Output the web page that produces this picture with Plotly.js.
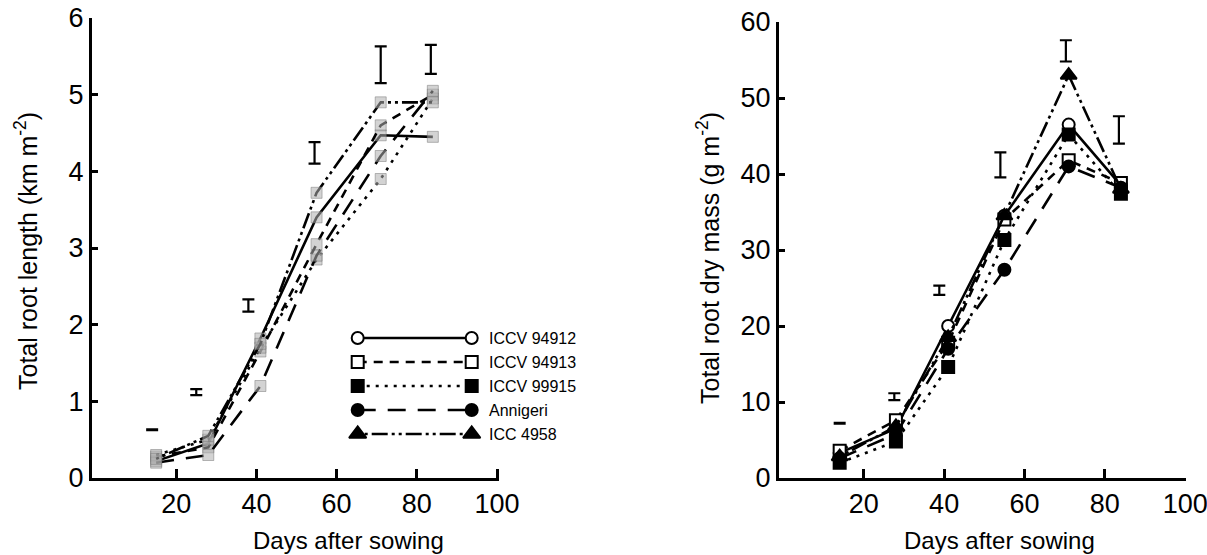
<!DOCTYPE html>
<html>
<head>
<meta charset="utf-8">
<script src="https://cdn.plot.ly/plotly-3.0.1.min.js"></script>
<style>html,body{margin:0;padding:0;background:#fff}#chart{width:1207px;height:555px}</style>
</head>
<body>
<div id="chart"></div>
<script>
// ---------- data ----------
const cultivars = ["ICCV 94912", "ICCV 94913", "ICCV 99915", "Annigeri", "ICC 4958"];

// Left panel: total root length (km m-2)
const daysLength = [15, 28, 41, 55, 71, 84];
const lenICCV94912 = [0.22, 0.45, 1.82, 3.40, 4.47, 4.45];
const lenICCV94913 = [0.28, 0.40, 1.65, 3.05, 4.60, 5.00];
const lenICCV99915 = [0.30, 0.50, 1.70, 2.85, 3.90, 4.95];
const lenAnnigeri  = [0.20, 0.30, 1.20, 2.90, 4.20, 5.05];
const lenICC4958   = [0.25, 0.55, 1.75, 3.72, 4.90, 4.90];
// LSD bars, left panel
const lsdLenDays   = [14, 25, 38, 54.5, 71, 83.5];
const lsdLenCenter = [0.63, 1.12, 2.25, 4.24, 5.39, 5.46];
const lsdLenHalf   = [0.005, 0.04, 0.08, 0.14, 0.24, 0.19];

// Right panel: total root dry mass (g m-2)
const daysMass = [14, 28, 41, 55, 71, 84];
const massICCV94912 = [3.3, 6.5, 20.0, 34.5, 46.5, 38.5];
const massICCV94913 = [3.6, 7.6, 17.8, 34.0, 41.8, 38.8];
const massICCV99915 = [2.0, 4.8, 14.6, 31.3, 45.2, 37.4];
const massAnnigeri  = [2.6, 5.8, 17.0, 27.4, 41.0, 38.2];
const massICC4958   = [2.8, 6.8, 18.5, 34.5, 53.0, 38.0];
// LSD bars, right panel
const lsdMassDays   = [14, 27.6, 38.8, 54, 70.3, 83.5];
const lsdMassCenter = [7.2, 10.7, 24.7, 41.2, 56.2, 45.8];
const lsdMassHalf   = [0.05, 0.45, 0.6, 1.65, 1.4, 1.8];

const xTicks = [20, 40, 60, 80, 100];
const yTicksLen = [0, 1, 2, 3, 4, 5, 6];
const yTicksMass = [0, 10, 20, 30, 40, 50, 60];

// ---------- styles ----------
const FONT = "Liberation Sans, Arial, Helvetica, sans-serif";
const styles = [
  {dash: "solid", symbol: "circle", fill: "#fff"},
  {dash: "9px,7px", symbol: "square", fill: "#fff"},
  {dash: "3px,6px", symbol: "square", fill: "#000"},
  {dash: "18px,12px", symbol: "circle", fill: "#000"},
  {dash: "3px,4px,3px,4px,16px,4px", symbol: "triangle-up", fill: "#000"}
];
const lenSeries = [lenICCV94912, lenICCV94913, lenICCV99915, lenAnnigeri, lenICC4958];
const massSeries = [massICCV94912, massICCV94913, massICCV99915, massAnnigeri, massICC4958];

const traces = [];
lenSeries.forEach((ys, i) => {
  traces.push({
    x: daysLength, y: ys, xaxis: "x", yaxis: "y", type: "scatter", mode: "lines+markers",
    name: cultivars[i], showlegend: false,
    line: {color: "#000", width: 2.6, dash: styles[i].dash},
    marker: {symbol: "square", size: 11, color: "rgba(175,175,175,0.55)",
             line: {color: "rgba(120,120,120,0.5)", width: 1}}
  });
});
traces.push({
  x: lsdLenDays, y: lsdLenCenter, xaxis: "x", yaxis: "y", type: "scatter", mode: "markers",
  name: "LSD", showlegend: false, marker: {size: 1, color: "rgba(0,0,0,0)"},
  error_y: {type: "data", array: lsdLenHalf, symmetric: true, color: "#000", thickness: 2.2, width: 6}
});
massSeries.forEach((ys, i) => {
  traces.push({
    x: daysMass, y: ys, xaxis: "x2", yaxis: "y2", type: "scatter", mode: "lines+markers",
    name: cultivars[i], showlegend: false,
    line: {color: "#000", width: 2.6, dash: styles[i].dash},
    marker: {symbol: styles[i].symbol, size: styles[i].symbol === "triangle-up" ? 14 : 12,
             color: styles[i].fill, line: {color: "#000", width: 2}}
  });
});
traces.push({
  x: lsdMassDays, y: lsdMassCenter, xaxis: "x2", yaxis: "y2", type: "scatter", mode: "markers",
  name: "LSD", showlegend: false, marker: {size: 1, color: "rgba(0,0,0,0)"},
  error_y: {type: "data", array: lsdMassHalf, symmetric: true, color: "#000", thickness: 2.2, width: 6}
});

const W = 1207, H = 555;
const px = v => v / W, py = v => 1 - v / H;

// ---------- custom legend (symbol — line — symbol, label) ----------
const legendRows = [13, 37, 61, 85, 109];   // local offsets inside the legend box (top = 325 px)
const annotations = [];
cultivars.forEach((name, i) => {
  traces.push({
    x: [7.7, 121.7], y: [legendRows[i], legendRows[i]], xaxis: "x3", yaxis: "y3",
    type: "scatter", mode: "lines+markers", showlegend: false, cliponaxis: false, hoverinfo: "skip",
    line: {color: "#000", width: 2.6, dash: styles[i].dash},
    marker: {symbol: styles[i].symbol, size: styles[i].symbol === "triangle-up" ? 15 : 12,
             color: styles[i].fill, line: {color: "#000", width: 2}}
  });
  annotations.push({
    xref: "paper", yref: "paper", x: px(487), y: py(325 + legendRows[i]), xanchor: "left", yanchor: "middle",
    text: name, showarrow: false, font: {family: FONT, size: 16, color: "#000"}
  });
});

annotations.push(
  {xref: "paper", yref: "paper", x: px(348), y: py(540), text: "Days after sowing", showarrow: false,
   xanchor: "center", yanchor: "middle", font: {family: FONT, size: 24, color: "#000"}},
  {xref: "paper", yref: "paper", x: px(999), y: py(540), text: "Days after sowing", showarrow: false,
   xanchor: "center", yanchor: "middle", font: {family: FONT, size: 24, color: "#000"}},
  {xref: "paper", yref: "paper", x: px(26), y: py(251), text: "Total root length (km m<sup>-2</sup>)",
   showarrow: false, textangle: -90, xanchor: "center", yanchor: "middle",
   font: {family: FONT, size: 25, color: "#000"}},
  {xref: "paper", yref: "paper", x: px(708), y: py(258), text: "Total root dry mass (g m<sup>-2</sup>)",
   showarrow: false, textangle: -90, xanchor: "center", yanchor: "middle",
   font: {family: FONT, size: 25, color: "#000"}}
);

const tickFont = {family: FONT, size: 27, color: "#000"};
const xCommon = {
  tickvals: xTicks, ticks: "inside", ticklen: 9, tickwidth: 3, tickcolor: "#000",
  showline: true, linewidth: 3, linecolor: "#000", showgrid: false, zeroline: false,
  tickfont: tickFont, fixedrange: true, ticklabeloverflow: "allow"
};
const yCommon = {
  ticks: "inside", ticklen: 6, tickwidth: 3, tickcolor: "#000",
  showline: true, linewidth: 3, linecolor: "#000", showgrid: false, zeroline: false,
  tickfont: tickFont, fixedrange: true, ticklabeloverflow: "allow"
};

const layout = {
  width: W, height: H,
  margin: {l: 0, r: 0, t: 0, b: 0},
  paper_bgcolor: "#fff", plot_bgcolor: "rgba(0,0,0,0)",
  showlegend: false,
  font: {family: FONT, color: "#000"},
  xaxis: Object.assign({}, xCommon, {domain: [px(92), px(499)], range: [-1, 100.5], anchor: "y"}),
  yaxis: Object.assign({}, yCommon, {domain: [py(478), py(18)], range: [0, 6], tickvals: yTicksLen, anchor: "x"}),
  xaxis2: Object.assign({}, xCommon, {domain: [px(779), px(1186)], range: [-1.1, 100.2], anchor: "y2"}),
  yaxis2: Object.assign({}, yCommon, {domain: [py(478), py(22)], range: [0, 60], tickvals: yTicksMass, anchor: "x2"}),
  xaxis3: {domain: [px(350), px(480)], range: [0, 130], visible: false, anchor: "y3", fixedrange: true},
  yaxis3: {domain: [py(445), py(325)], range: [120, 0], visible: false, anchor: "x3", fixedrange: true},
  annotations: annotations
};

Plotly.newPlot("chart", traces, layout, {staticPlot: true, displayModeBar: false});
</script>
</body>
</html>
